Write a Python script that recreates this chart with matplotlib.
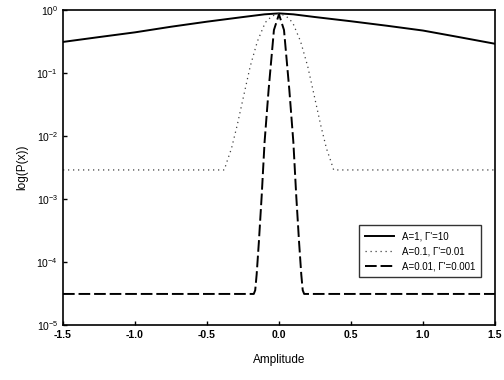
import matplotlib
matplotlib.use("Agg")
import matplotlib.pyplot as plt
from matplotlib.ticker import LogLocator, NullLocator

plt.rcParams['font.family'] = ['Liberation Sans', 'DejaVu Sans']
plt.rcParams['mathtext.fontset'] = 'custom'
plt.rcParams['mathtext.rm'] = 'Liberation Sans'
plt.rcParams['mathtext.it'] = 'Liberation Sans'

# values
x_solid = [-1.5, -1.25, -1.0, -0.75, -0.5, -0.25, -0.1, 0.0, 0.1, 0.25, 0.5, 0.75, 1.0, 1.25, 1.5]
y_solid = [0.31, 0.37, 0.44, 0.54, 0.65, 0.77, 0.85, 0.88, 0.85, 0.77, 0.66, 0.56, 0.47, 0.37, 0.29]

x_dot = [-1.5, -0.38, -0.36, -0.33, -0.29, -0.236, -0.2, -0.15, -0.095, -0.05, 0.0,
         0.05, 0.095, 0.15, 0.2, 0.236, 0.29, 0.33, 0.36, 0.38, 1.5]
y_dot = [0.00288, 0.00288, 0.00398, 0.0063, 0.0148, 0.0537, 0.126, 0.316, 0.631, 0.794, 0.88,
         0.794, 0.631, 0.316, 0.126, 0.0537, 0.0148, 0.0063, 0.00398, 0.00288, 0.00288]

x_dash = [-1.5, -0.175, -0.165, -0.155, -0.14, -0.12, -0.10, -0.072, -0.035, 0.0,
          0.035, 0.072, 0.10, 0.12, 0.14, 0.155, 0.165, 0.175, 1.5]
y_dash = [3.1e-5, 3.1e-5, 3.55e-5, 6.3e-5, 2.0e-4, 1.12e-3, 7.94e-3, 0.0537, 0.479, 0.85,
          0.479, 0.0537, 7.94e-3, 1.12e-3, 2.0e-4, 6.3e-5, 3.55e-5, 3.1e-5, 3.1e-5]

labels = ["A=1, \u0393'=10", "A=0.1, \u0393'=0.01", "A=0.01, \u0393'=0.001"]
x_ticks = [-1.5, -1.0, -0.5, 0.0, 0.5, 1.0, 1.5]

fig = plt.figure(figsize=(5.04, 3.80), dpi=100)
ax = fig.add_axes([0.125, 0.145, 0.857, 0.829])

ax.plot(x_solid, y_solid, color='black', lw=1.4, label=labels[0])
ax.plot(x_dot, y_dot, color='0.25', lw=0.9, linestyle=(0, (1, 3)), label=labels[1])
ax.plot(x_dash, y_dash, color='black', lw=1.4, linestyle=(0, (6, 2)), label=labels[2])

ax.set_yscale('log')
ax.set_xlim(-1.5, 1.5)
ax.set_ylim(1e-5, 1)
ax.yaxis.set_major_locator(LogLocator(base=10, numticks=10))
ax.yaxis.set_minor_locator(NullLocator())
ax.set_xticks(x_ticks)
ax.set_xticklabels(["%.1f" % v for v in x_ticks], fontweight='bold')
ax.tick_params(direction='in', length=3, labelsize=7.5, width=1)
for s in ax.spines.values():
    s.set_linewidth(1.2)

ax.set_xlabel("Amplitude", fontsize=8.5, labelpad=10)
ax.set_ylabel("log(P(x))", fontsize=8.5, labelpad=6)

leg = ax.legend(loc='lower right', bbox_to_anchor=(0.98, 0.137), fontsize=7,
                frameon=True, fancybox=False, edgecolor='black', handlelength=3,
                borderpad=0.6, labelspacing=0.5)
leg.get_frame().set_linewidth(1.0)

fig.savefig("out.png", dpi=100)
